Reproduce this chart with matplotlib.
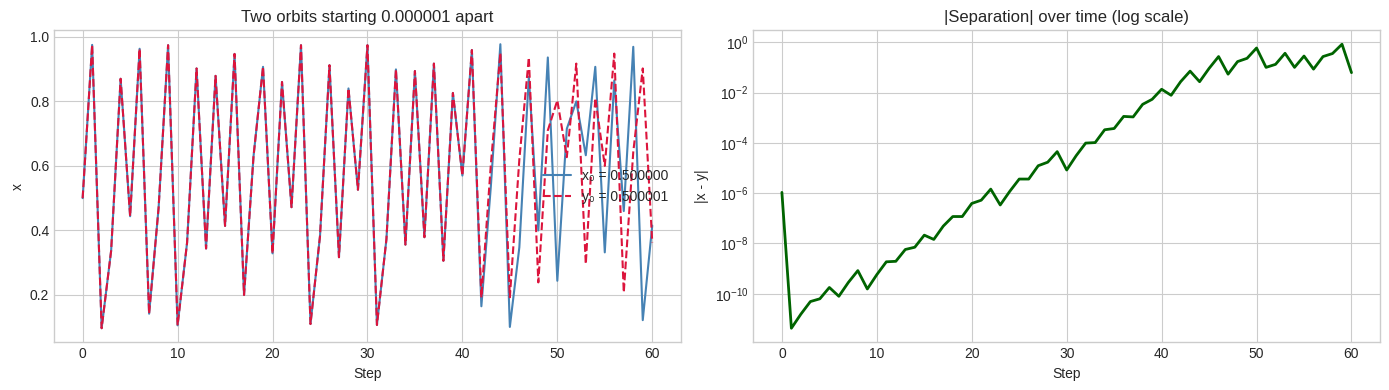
import numpy as np
import matplotlib.pyplot as plt

plt.style.use("seaborn-v0_8-whitegrid")
plt.rcParams["font.family"] = ["Liberation Sans", "DejaVu Sans"]

steps = np.arange(0, 61)

x_vals = [0.500, 0.975, 0.097, 0.337, 0.870, 0.444, 0.963, 0.142, 0.470, 0.974,
          0.106, 0.362, 0.902, 0.344, 0.879, 0.414, 0.947, 0.200, 0.630, 0.907,
          0.329, 0.860, 0.472, 0.974, 0.110, 0.382, 0.912, 0.317, 0.840, 0.526,
          0.974, 0.107, 0.373, 0.899, 0.356, 0.894, 0.379, 0.917, 0.306, 0.826,
          0.570, 0.959, 0.165, 0.537, 0.977, 0.101, 0.348, 0.876, 0.400, 0.936,
          0.244, 0.715, 0.800, 0.633, 0.907, 0.332, 0.865, 0.460, 0.969, 0.122,
          0.415]

y_vals = [0.500, 0.975, 0.097, 0.337, 0.870, 0.444, 0.963, 0.142, 0.470, 0.974,
          0.106, 0.362, 0.902, 0.344, 0.879, 0.414, 0.947, 0.200, 0.630, 0.907,
          0.329, 0.860, 0.472, 0.974, 0.110, 0.382, 0.912, 0.317, 0.840, 0.526,
          0.974, 0.107, 0.373, 0.899, 0.356, 0.894, 0.379, 0.917, 0.306, 0.826,
          0.570, 0.959, 0.192, 0.605, 0.950, 0.193, 0.620, 0.936, 0.239, 0.710,
          0.803, 0.627, 0.917, 0.296, 0.810, 0.600, 0.948, 0.208, 0.643, 0.902,
          0.363]

# log10 of |x - y|
sep_log = [-5.97, -11.37, -10.81, -10.31, -10.20, -9.75, -10.10, -9.55, -9.08, -9.81,
           -9.24, -8.73, -8.71, -8.24, -8.15, -7.67, -7.84, -7.31, -6.93, -6.93,
           -6.41, -6.28, -5.84, -6.47, -5.93, -5.44, -5.44, -4.91, -4.77, -4.35,
           -5.08, -4.51, -4.01, -3.99, -3.48, -3.43, -2.95, -2.97, -2.47, -2.27,
           -1.87, -2.11, -1.57, -1.15, -1.57, -1.04, -0.57, -1.27, -0.77, -0.64,
           -0.23, -1.00, -0.88, -0.44, -1.00, -0.55, -1.07, -0.57, -0.45, -0.08,
           -1.21]
separation = 10.0 ** np.array(sep_log)

fig, (ax1, ax2) = plt.subplots(1, 2, figsize=(13.89, 3.9), dpi=100)
fig.subplots_adjust(left=0.039, right=0.9935, bottom=0.122, top=0.923, wspace=0.116)

ax1.plot(steps, x_vals, color="steelblue", lw=1.5, label="x\u2080 = 0.500000")
ax1.plot(steps, y_vals, color="crimson", lw=1.5, ls="--", label="y\u2080 = 0.500001")
ax1.set_title("Two orbits starting 0.000001 apart")
ax1.set_xlabel("Step")
ax1.set_ylabel("x")
ax1.legend(loc="center right")

ax2.semilogy(steps, separation, color="darkgreen", lw=2)
ax2.set_title("|Separation| over time (log scale)")
ax2.set_xlabel("Step")
ax2.set_ylabel("|x - y|")

plt.savefig("out.png")
